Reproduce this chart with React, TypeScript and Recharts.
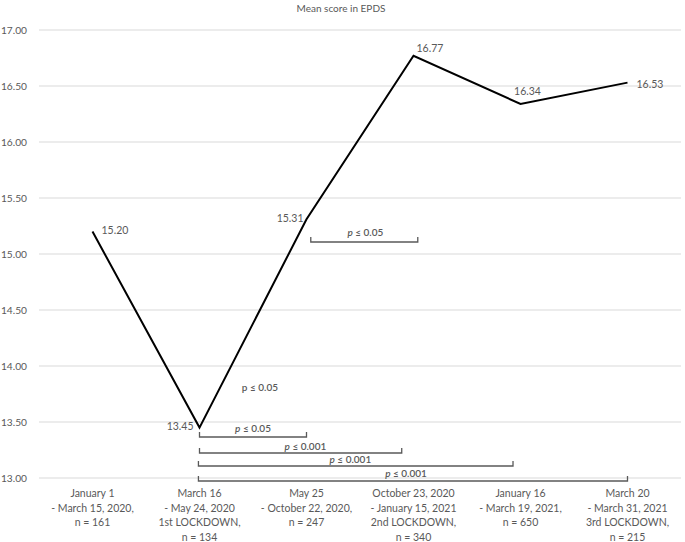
import React from 'react';
import { LineChart, Line, XAxis, YAxis, CartesianGrid, LabelList, ReferenceLine, ReferenceDot } from 'recharts';

if (typeof document !== 'undefined') {
  document.body.style.margin = '0';
}

const periods: string[][] = [
  ['January 1', '- March 15, 2020,', 'n = 161'],
  ['March 16', '- May 24, 2020', '1st LOCKDOWN,', 'n = 134'],
  ['May 25', '- October 22, 2020,', 'n = 247'],
  ['October 23, 2020', '- January 15, 2021', '2nd LOCKDOWN,', 'n = 340'],
  ['January 16', '- March 19, 2021,', 'n = 650'],
  ['March 20', '- March 31, 2021', '3rd LOCKDOWN,', 'n = 215'],
];
const meanScores = [15.2, 13.45, 15.31, 16.77, 16.34, 16.53];
const yTicks = [13, 13.5, 14, 14.5, 15, 15.5, 16, 16.5, 17];
const xTicks = [0, 1, 2, 3, 4, 5];

// significance brackets (positions on the period scale, level in score units)
const bracketFrom = [2.04, 1.0, 1.0, 0.99, 0.99];
const bracketTo = [3.04, 2.0, 2.89, 3.93, 5.0];
const bracketLevel = [15.107, 13.366, 13.223, 13.107, 12.973];
const bracketP = ['0.05', '0.05', '0.001', '0.001', '0.001'];
const bracketLabelX = [2.55, 1.5, 1.99, 2.41, 2.93];
const bracketLabelY = [15.196, 13.446, 13.286, 13.17, 13.045];
const looseLabelX = 1.565;
const looseLabelY = 13.8125;
const looseLabelP = '0.05';

const data = meanScores.map((v, i) => ({ idx: i, score: v }));

const FONT = 'Lato, "Open Sans", sans-serif';
const GRAY = '#595959';

const labelOffsets: [number, number, 'start' | 'middle' | 'end'][] = [
  [9, -2, 'start'],
  [-6, -2, 'end'],
  [-3, -1, 'end'],
  [3, -8, 'start'],
  [7, -13, 'middle'],
  [9, 1, 'start'],
];

const PointLabel = (props: any) => {
  const { x, y, index, value } = props;
  const [dx, dy, anchor] = labelOffsets[index];
  return (
    <text x={x + dx} y={y + dy} textAnchor={anchor} dominantBaseline="central" fontSize={10.5} fill={GRAY} fontFamily={FONT}>
      {Number(value).toFixed(2)}
    </text>
  );
};

const PeriodTick = (props: any) => {
  const { x, y, payload } = props;
  const lines = periods[payload.value] || [];
  return (
    <text x={x} y={y} textAnchor="middle" fontSize={10.5} fill={GRAY} fontFamily={FONT}>
      {lines.map((l, i) => (
        <tspan key={i} x={x} y={y + 11 + i * 14.7}>{l}</tspan>
      ))}
    </text>
  );
};

const bracketShape = (p: any) => {
  const { x1, y1, x2, y2 } = p;
  return <path d={`M${x1},${y1 - 5}V${y1}H${x2}V${y2 - 5}`} fill="none" stroke={GRAY} strokeWidth={1.3} />;
};

const pLabelShape = (value: string, italic: boolean) => (p: any) => (
  <text x={p.cx} y={p.cy} textAnchor="middle" dominantBaseline="central" fontSize={10} fill={GRAY} fontFamily={FONT} fontWeight={600}>
    <tspan fontStyle={italic ? 'italic' : 'normal'}>p</tspan>
    <tspan>{' ≤ ' + value}</tspan>
  </text>
);

export default function App() {
  return (
    <div style={{ position: 'relative', width: 685, height: 542 }}>
      <LineChart width={685} height={542} data={data} margin={{ top: 30, right: 4, bottom: 0, left: 0 }}>
        <CartesianGrid horizontal vertical={false} stroke="#d9d9d9" strokeWidth={1} />
        <XAxis
          type="number"
          dataKey="idx"
          domain={[-0.5, 5.5]}
          ticks={xTicks}
          allowDataOverflow
          axisLine={false}
          tickLine={false}
          height={64}
          interval={0}
          tick={<PeriodTick />}
        />
        <YAxis
          domain={[13, 17]}
          ticks={yTicks}
          width={39}
          axisLine={false}
          tickLine={false}
          tickMargin={6}
          tickFormatter={(v: number) => v.toFixed(2)}
          tick={{ fontSize: 10.2, fill: GRAY, fontFamily: FONT }}
        />
        <Line dataKey="score" stroke="#000" strokeWidth={2} dot={false} isAnimationActive={false}>
          <LabelList dataKey="score" content={<PointLabel />} />
        </Line>
        {bracketFrom.map((f, i) => (
          <ReferenceLine
            key={'b' + i}
            segment={[{ x: f, y: bracketLevel[i] }, { x: bracketTo[i], y: bracketLevel[i] }]}
            ifOverflow="visible"
            shape={bracketShape}
          />
        ))}
        {bracketP.map((pv, i) => (
          <ReferenceDot key={'l' + i} x={bracketLabelX[i]} y={bracketLabelY[i]} r={0} ifOverflow="visible" shape={pLabelShape(pv, true)} />
        ))}
        <ReferenceDot x={looseLabelX} y={looseLabelY} r={0} ifOverflow="visible" shape={pLabelShape(looseLabelP, false)} />
      </LineChart>
      <div style={{ position: 'absolute', zIndex: 2, top: 2, left: 341, transform: 'translateX(-50%)', fontFamily: FONT, fontSize: 10, lineHeight: '13px', color: GRAY, whiteSpace: 'nowrap' }}>
        Mean score in EPDS
      </div>
    </div>
  );
}
